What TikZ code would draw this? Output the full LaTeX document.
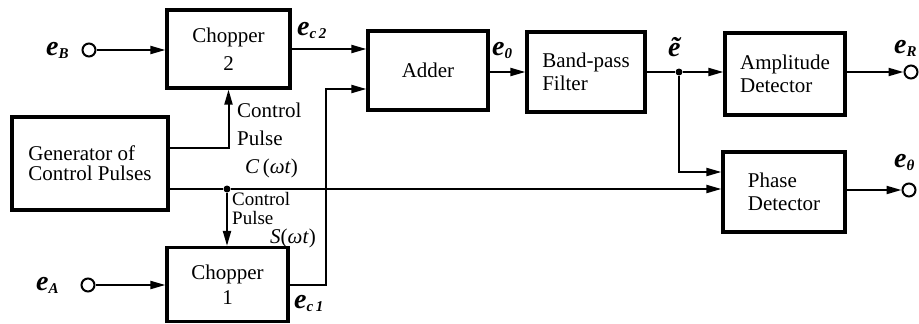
\documentclass[tikz,border=0pt]{standalone}
\usepackage{fontspec}
\setmainfont{Liberation Serif}
\usetikzlibrary{arrows.meta}
\newcommand\lbE[1]{{\fontsize{28}{28}\selectfont\bfseries\itshape e}\raisebox{-3pt}{\fontsize{15}{15}\selectfont\bfseries\itshape #1}}
\begin{document}
\begin{tikzpicture}[x=1pt,y=-1pt,
  blk/.style={draw, line width=3.2pt, inner sep=0pt, font=\fontsize{21}{23}\selectfont, align=left},
  conn/.style={line width=2pt},
  arr/.style={conn, -{Triangle[length=15pt,width=8pt]}},
  term/.style={circle, draw, line width=2pt, minimum size=13pt, inner sep=0pt},
  jdot/.style={circle, fill, minimum size=7pt, inner sep=0pt},
  lbl/.style={font=\fontsize{21}{21}\selectfont, inner sep=0pt, anchor=base west},
  slbl/.style={font=\fontsize{19}{19}\selectfont, inner sep=0pt, anchor=base west},
  elbl/.style={inner sep=0pt, anchor=base west}]
\useasboundingbox (0,0) rectangle (919,324);
% blocks
\node[blk, minimum width=123pt, minimum height=78pt, align=center, font=\fontsize{21}{28}\selectfont] (ch2) at (228.5,49) {Chopper\\2};
\node[blk, minimum width=121pt, minimum height=74pt, align=center, font=\fontsize{21}{25}\selectfont] (ch1) at (227.5,284.5) {Chopper\\1};
\node[blk, minimum width=156pt, minimum height=93pt, font=\fontsize{21}{20}\selectfont] (gen) at (90,163.5) {Generator of\\Control Pulses};
\node[blk, minimum width=120pt, minimum height=79pt] (add) at (428,70.5) {Adder};
\node[blk, minimum width=118pt, minimum height=80pt] (bpf) at (586,72) {Band-pass\\Filter};
\node[blk, minimum width=120pt, minimum height=82pt] (amp) at (785,74) {Amplitude\\Detector};
\node[blk, minimum width=122pt, minimum height=80pt] (ph) at (784,192) {Phase\\Detector};
% terminals
\node[term] (eB) at (89,50) {};
\node[term] (eA) at (88,285) {};
\node[term] (eR) at (911,72) {};
\node[term] (eth) at (909,190) {};
% junctions
\node[jdot] (jn) at (227,189) {};
\node[jdot] (jt) at (679,72) {};
\coordinate (g1) at (168,148);
\coordinate (k1) at (326,89);
% connectors
\draw[arr] (eB.east) -- (eB.east -| ch2.west);
\draw[arr] (eA.east) -- (eA.east -| ch1.west);
\draw[arr] (g1) -| (ch2.south);
\draw[conn] (gen.east |- jn) -- (jn);
\draw[arr] (jn) -- (jn -| ph.west);
\draw[arr] (jn) -- (jn |- ch1.north);
\draw[arr] (ch2.east) -- (ch2.east -| add.west);
\draw[arr] (ch1.east) -| (k1) -- (k1 -| add.west);
\draw[arr] (add.east |- jt) -- (jt -| bpf.west);
\draw[conn] (bpf.east |- jt) -- (jt);
\draw[arr] (jt) -- (jt -| amp.west);
\draw[arr] (jt) |- ([yshift=20pt]ph.west);
\draw[arr] (amp.east |- eR) -- (eR.west);
\draw[arr] (ph.east |- eth) -- (eth.west);
% labels
\node[elbl] (leB) at (46,55) {\lbE{B}};
\node[elbl] (leA) at (36,290) {\lbE{A}};
\node[elbl] (lec2) at (297,35) {\lbE{c\,2}};
\node[elbl] (lec1) at (294,308) {\lbE{c\,1}};
\node[elbl] (le0) at (492,55) {\lbE{0}};
\node[elbl] (let) at (668,56) {\fontsize{28}{28}\selectfont\bfseries\itshape ẽ};
\node[elbl] (leR) at (894,53) {\lbE{R}};
\node[elbl] (leth) at (894,167) {\lbE{θ}};
\node[lbl] (cp1) at (237,117) {Control};
\node[lbl] (cp2) at (237,145) {Pulse};
\node[lbl] (cp3) at (245,173) {\textit{C}\,(\textit{ωt})};
\node[slbl] (sp1) at (232,205) {Control};
\node[slbl] (sp2) at (232,224) {Pulse};
\node[lbl] (sp3) at (270,243) {\textit{S}(\textit{ωt})};
\end{tikzpicture}
\end{document}
